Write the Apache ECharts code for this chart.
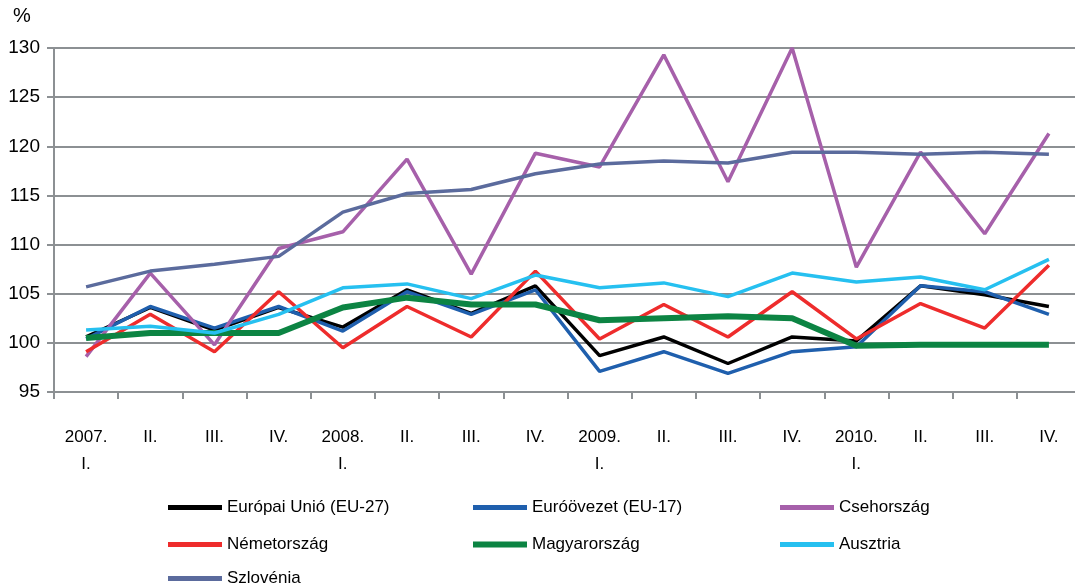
<!DOCTYPE html>
<html><head><meta charset="utf-8">
<script src="https://cdn.jsdelivr.net/npm/echarts@6/dist/echarts.min.js"></script>
<style>html,body{margin:0;padding:0;background:#fff}#c{width:1075px;height:588px}</style>
</head><body><div id="c"></div>
<script>
const categories = ['2007.\nI.','II.','III.','IV.','2008.\nI.','II.','III.','IV.','2009.\nI.','II.','III.','IV.','2010.\nI.','II.','III.','IV.'];
const yTicks = [95,100,105,110,115,120,125,130];
const eu27 = [100.6,103.6,101.3,103.6,101.6,105.4,103.0,105.8,98.7,100.6,97.9,100.6,100.2,105.8,104.9,103.7];
const eu17 = [100.4,103.7,101.5,103.7,101.2,105.2,102.9,105.4,97.1,99.1,96.9,99.1,99.6,105.8,105.2,102.9];
const cseh = [98.6,107.1,99.8,109.6,111.3,118.7,107.0,119.3,117.9,129.3,116.4,130.0,107.7,119.4,111.1,121.3];
const nemet = [99.1,102.9,99.1,105.2,99.5,103.7,100.6,107.3,100.4,103.9,100.6,105.2,100.4,104.0,101.5,107.9];
const magyar = [100.5,101.0,101.0,101.0,103.6,104.6,103.9,103.9,102.3,102.5,102.7,102.5,99.7,99.8,99.8,99.8];
const ausztria = [101.3,101.7,101.0,102.9,105.6,106.0,104.5,106.9,105.6,106.1,104.7,107.1,106.2,106.7,105.4,108.5];
const szlovenia = [105.7,107.3,108.0,108.8,113.3,115.2,115.6,117.2,118.2,118.5,118.3,119.4,119.4,119.2,119.4,119.2];

const FONT = "'Liberation Sans Narrow','Arial Narrow','Liberation Sans',sans-serif";
const seriesDefs = [
  {name:'Európai Unió (EU-27)', data:eu27, color:'#000000', w:3.5},
  {name:'Euróövezet (EU-17)', data:eu17, color:'#1f5fad', w:3.5},
  {name:'Csehország', data:cseh, color:'#a660aa', w:3.5},
  {name:'Németország', data:nemet, color:'#ee2c2c', w:3.5},
  {name:'Magyarország', data:magyar, color:'#0c8443', w:6},
  {name:'Ausztria', data:ausztria, color:'#26c0f0', w:3.5},
  {name:'Szlovénia', data:szlovenia, color:'#5b6b9d', w:3.5}
];
const legendPos = [[168,499],[473,499],[780,499],[168,536],[473,536],[780,536],[168,570]];
const chart = echarts.init(document.getElementById('c'));
chart.setOption({
  animation:false,
  textStyle:{fontFamily:FONT},
  graphic:[{type:'text',left:13,top:6,style:{text:'%',font:"20px "+FONT,fill:'#000'}}],
  grid:{left:54,top:48,width:1027,height:344,containLabel:false,outerBoundsMode:'none'},
  xAxis:{type:'category',data:categories,boundaryGap:true,
    axisLine:{lineStyle:{color:'#8c9093',width:2}},
    axisTick:{show:true,length:7,interval:0,lineStyle:{color:'#8c9093',width:2}},
    axisLabel:{interval:0,color:'#000',fontSize:17,fontFamily:FONT,margin:32,lineHeight:27,verticalAlign:'top'}},
  yAxis:{type:'value',min:95,max:130,interval:5,
    axisLine:{show:true,lineStyle:{color:'#8c9093',width:2}},
    axisTick:{show:true,length:7,lineStyle:{color:'#8c9093',width:2}},
    splitLine:{lineStyle:{color:'#8c9093',width:2}},
    axisLabel:{color:'#000',fontSize:19,fontFamily:FONT,margin:14,
      formatter:v=>yTicks.includes(v)?String(v):''}},
  legend: seriesDefs.map((s,i)=>({
    data:[s.name],left:legendPos[i][0],top:legendPos[i][1],
    icon:'rect',itemWidth:54,itemHeight:s.w>4?6:5,itemGap:0,
    textStyle:{fontSize:17,fontFamily:FONT,color:'#000'},
    padding:0,selectedMode:false
  })),
  series: seriesDefs.map(s=>({
    type:'line',name:s.name,data:s.data,symbol:'none',
    lineStyle:{color:s.color,width:s.w},itemStyle:{color:s.color}
  }))
});
</script></body></html>
